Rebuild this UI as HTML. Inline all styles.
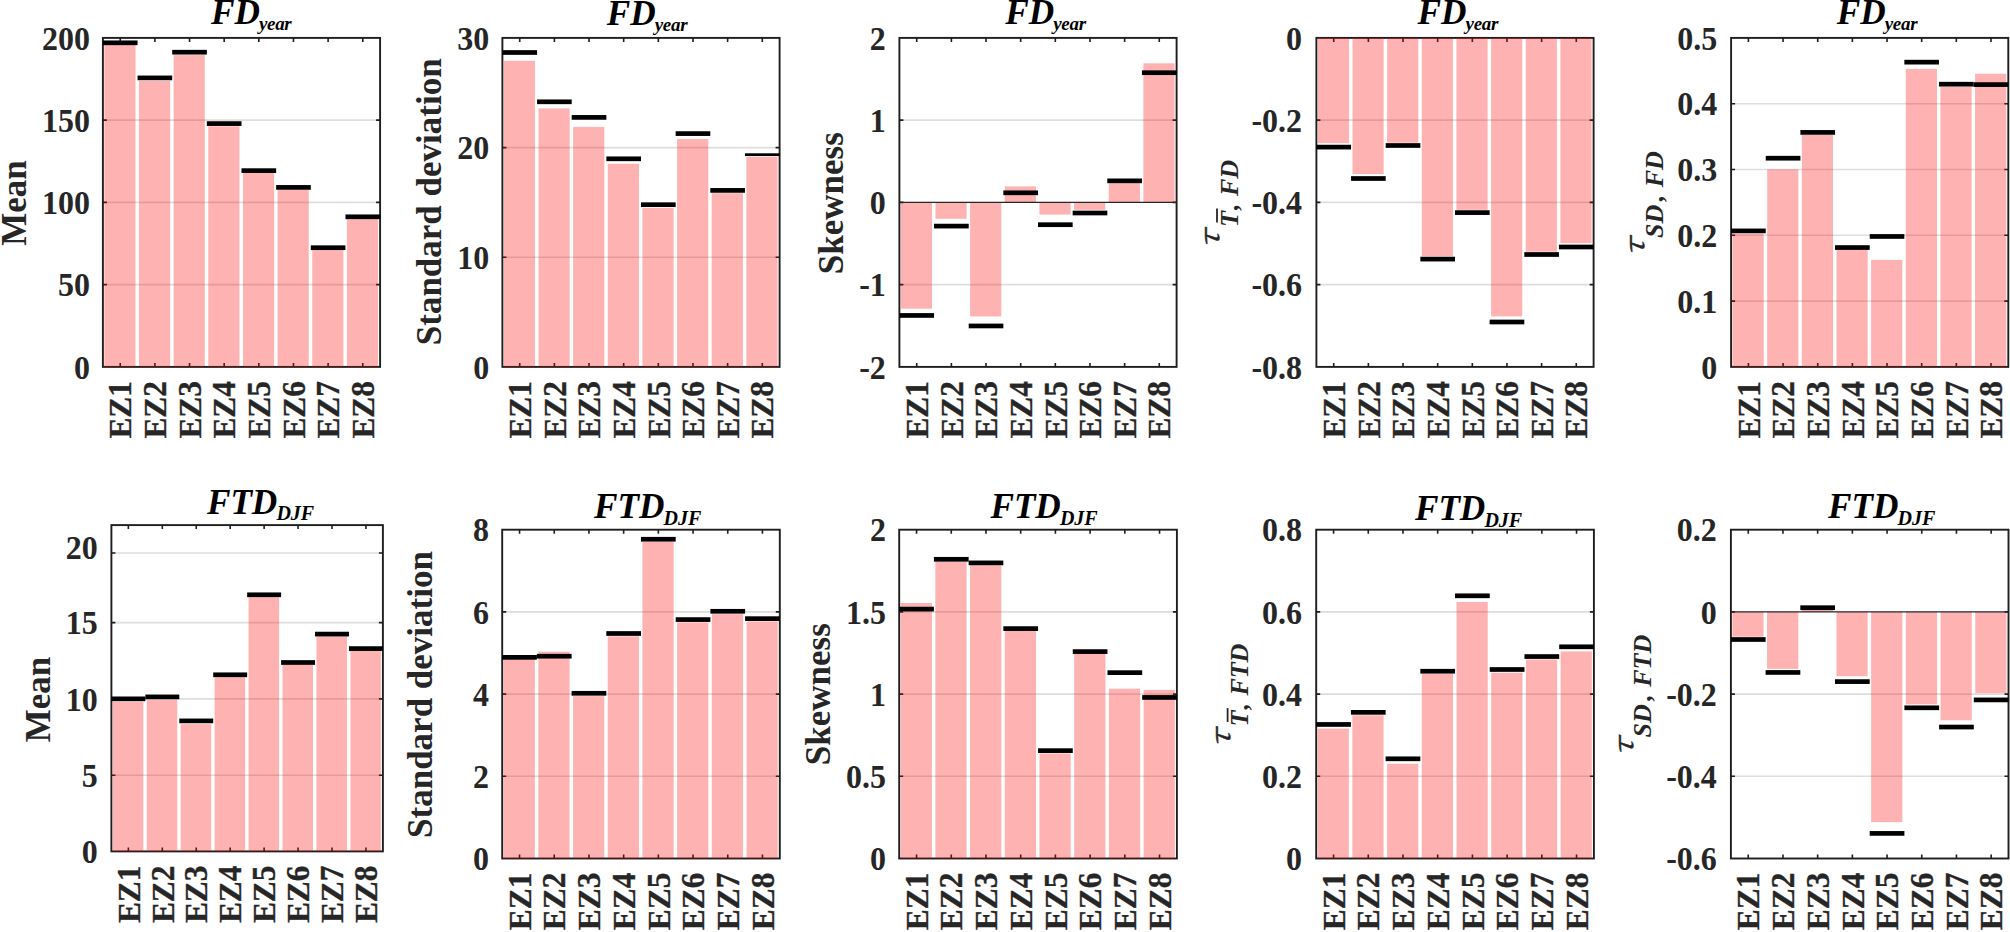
<!DOCTYPE html>
<html><head><meta charset="utf-8"><title>Figure</title>
<style>html,body{margin:0;padding:0;background:#fff;}svg{display:block;}text{font-family:'Liberation Serif', serif;}.tk{font-size:32px;font-weight:bold;fill:#262626;}.xk{font-size:31.4px;font-weight:bold;fill:#262626;stroke:#262626;stroke-width:0.3px;}.yl{font-size:35px;font-weight:bold;fill:#262626;}.tt{font-size:35.2px;font-weight:bold;font-style:italic;fill:#000;}.ts{font-size:20px;font-weight:bold;font-style:italic;fill:#000;}.ty{font-size:19px;letter-spacing:-0.3px;}.tau{font-family:'Noto Serif CJK SC','Liberation Serif',serif;font-size:27px;font-style:italic;fill:#262626;}.sub{font-size:26px;font-weight:bold;font-style:italic;fill:#262626;word-spacing:1.0px;}</style></head><body>
<svg width="2010" height="932" viewBox="0 0 2010 932">
<rect x="0" y="0" width="2010" height="932" fill="#fff"/>
<g>
<line x1="102.90" y1="284.65" x2="380.10" y2="284.65" stroke="#dddddd" stroke-width="1.6"/>
<line x1="102.90" y1="202.40" x2="380.10" y2="202.40" stroke="#dddddd" stroke-width="1.6"/>
<line x1="102.90" y1="120.15" x2="380.10" y2="120.15" stroke="#dddddd" stroke-width="1.6"/>
<rect x="102.90" y="37.90" width="277.20" height="329.00" fill="none" stroke="#1e1e1e" stroke-width="1.90"/>
<path d="M120.23 37.90v4.00M120.23 366.90v-4.00M154.88 37.90v4.00M154.88 366.90v-4.00M189.53 37.90v4.00M189.53 366.90v-4.00M224.18 37.90v4.00M224.18 366.90v-4.00M258.83 37.90v4.00M258.83 366.90v-4.00M293.48 37.90v4.00M293.48 366.90v-4.00M328.12 37.90v4.00M328.12 366.90v-4.00M362.78 37.90v4.00M362.78 366.90v-4.00M102.90 284.65h4.00M380.10 284.65h-4.00M102.90 202.40h4.00M380.10 202.40h-4.00M102.90 120.15h4.00M380.10 120.15h-4.00" stroke="#1e1e1e" stroke-width="1.6" fill="none"/>
<rect x="104.33" y="45.00" width="31.19" height="321.90" fill="#ff0000" fill-opacity="0.3"/>
<rect x="138.98" y="81.00" width="31.19" height="285.90" fill="#ff0000" fill-opacity="0.3"/>
<rect x="173.63" y="55.10" width="31.19" height="311.80" fill="#ff0000" fill-opacity="0.3"/>
<rect x="208.28" y="126.30" width="31.19" height="240.60" fill="#ff0000" fill-opacity="0.3"/>
<rect x="242.93" y="173.00" width="31.19" height="193.90" fill="#ff0000" fill-opacity="0.3"/>
<rect x="277.58" y="189.80" width="31.19" height="177.10" fill="#ff0000" fill-opacity="0.3"/>
<rect x="312.23" y="250.10" width="31.19" height="116.80" fill="#ff0000" fill-opacity="0.3"/>
<rect x="346.88" y="219.10" width="31.19" height="147.80" fill="#ff0000" fill-opacity="0.3"/>
<rect x="102.90" y="40.45" width="34.65" height="4.70" fill="#000"/>
<rect x="137.55" y="75.55" width="34.65" height="4.70" fill="#000"/>
<rect x="172.20" y="49.85" width="34.65" height="4.70" fill="#000"/>
<rect x="206.85" y="121.25" width="34.65" height="4.70" fill="#000"/>
<rect x="241.50" y="168.30" width="34.65" height="4.70" fill="#000"/>
<rect x="276.15" y="185.05" width="34.65" height="4.70" fill="#000"/>
<rect x="310.80" y="245.35" width="34.65" height="4.70" fill="#000"/>
<rect x="345.45" y="214.45" width="34.65" height="4.70" fill="#000"/>
<text class="tk" transform="translate(89.90 378.65) scale(1 1.075)" text-anchor="end">0</text>
<text class="tk" transform="translate(89.90 296.40) scale(1 1.075)" text-anchor="end">50</text>
<text class="tk" transform="translate(89.90 214.15) scale(1 1.075)" text-anchor="end">100</text>
<text class="tk" transform="translate(89.90 131.90) scale(1 1.075)" text-anchor="end">150</text>
<text class="tk" transform="translate(89.90 49.65) scale(1 1.075)" text-anchor="end">200</text>
<text class="xk" transform="translate(131.43 381.00) rotate(-90)" text-anchor="end" x="-15.7">EZ</text><text class="xk" transform="translate(131.43 381.00) rotate(-90) scale(1 1.06)" text-anchor="end">1</text>
<text class="xk" transform="translate(166.07 381.00) rotate(-90)" text-anchor="end" x="-15.7">EZ</text><text class="xk" transform="translate(166.07 381.00) rotate(-90) scale(1 1.06)" text-anchor="end">2</text>
<text class="xk" transform="translate(200.73 381.00) rotate(-90)" text-anchor="end" x="-15.7">EZ</text><text class="xk" transform="translate(200.73 381.00) rotate(-90) scale(1 1.06)" text-anchor="end">3</text>
<text class="xk" transform="translate(235.38 381.00) rotate(-90)" text-anchor="end" x="-15.7">EZ</text><text class="xk" transform="translate(235.38 381.00) rotate(-90) scale(1 1.06)" text-anchor="end">4</text>
<text class="xk" transform="translate(270.03 381.00) rotate(-90)" text-anchor="end" x="-15.7">EZ</text><text class="xk" transform="translate(270.03 381.00) rotate(-90) scale(1 1.06)" text-anchor="end">5</text>
<text class="xk" transform="translate(304.68 381.00) rotate(-90)" text-anchor="end" x="-15.7">EZ</text><text class="xk" transform="translate(304.68 381.00) rotate(-90) scale(1 1.06)" text-anchor="end">6</text>
<text class="xk" transform="translate(339.32 381.00) rotate(-90)" text-anchor="end" x="-15.7">EZ</text><text class="xk" transform="translate(339.32 381.00) rotate(-90) scale(1 1.06)" text-anchor="end">7</text>
<text class="xk" transform="translate(373.98 381.00) rotate(-90)" text-anchor="end" x="-15.7">EZ</text><text class="xk" transform="translate(373.98 381.00) rotate(-90) scale(1 1.06)" text-anchor="end">8</text>
<text class="tt" transform="translate(210.90 24.40) scale(1 1.04)">FD<tspan class="ts ty" dx="-0.9" dy="5.20">year</tspan></text>
<text class="yl" transform="translate(26.20 203.00) rotate(-90)" text-anchor="middle">Mean</text>
</g>
<g>
<line x1="502.40" y1="257.20" x2="779.60" y2="257.20" stroke="#dddddd" stroke-width="1.6"/>
<line x1="502.40" y1="147.60" x2="779.60" y2="147.60" stroke="#dddddd" stroke-width="1.6"/>
<rect x="502.40" y="37.90" width="277.20" height="329.00" fill="none" stroke="#1e1e1e" stroke-width="1.90"/>
<path d="M519.73 37.90v4.00M519.73 366.90v-4.00M554.38 37.90v4.00M554.38 366.90v-4.00M589.02 37.90v4.00M589.02 366.90v-4.00M623.67 37.90v4.00M623.67 366.90v-4.00M658.33 37.90v4.00M658.33 366.90v-4.00M692.98 37.90v4.00M692.98 366.90v-4.00M727.62 37.90v4.00M727.62 366.90v-4.00M762.28 37.90v4.00M762.28 366.90v-4.00M502.40 257.20h4.00M779.60 257.20h-4.00M502.40 147.60h4.00M779.60 147.60h-4.00" stroke="#1e1e1e" stroke-width="1.6" fill="none"/>
<rect x="503.83" y="60.80" width="31.19" height="306.10" fill="#ff0000" fill-opacity="0.3"/>
<rect x="538.48" y="108.40" width="31.19" height="258.50" fill="#ff0000" fill-opacity="0.3"/>
<rect x="573.13" y="126.90" width="31.19" height="240.00" fill="#ff0000" fill-opacity="0.3"/>
<rect x="607.78" y="163.80" width="31.19" height="203.10" fill="#ff0000" fill-opacity="0.3"/>
<rect x="642.43" y="208.00" width="31.19" height="158.90" fill="#ff0000" fill-opacity="0.3"/>
<rect x="677.08" y="139.00" width="31.19" height="227.90" fill="#ff0000" fill-opacity="0.3"/>
<rect x="711.73" y="193.20" width="31.19" height="173.70" fill="#ff0000" fill-opacity="0.3"/>
<rect x="746.38" y="157.00" width="31.19" height="209.90" fill="#ff0000" fill-opacity="0.3"/>
<rect x="502.40" y="50.15" width="34.65" height="4.70" fill="#000"/>
<rect x="537.05" y="99.45" width="34.65" height="4.70" fill="#000"/>
<rect x="571.70" y="115.05" width="34.65" height="4.70" fill="#000"/>
<rect x="606.35" y="156.45" width="34.65" height="4.70" fill="#000"/>
<rect x="641.00" y="202.35" width="34.65" height="4.70" fill="#000"/>
<rect x="675.65" y="131.25" width="34.65" height="4.70" fill="#000"/>
<rect x="710.30" y="188.05" width="34.65" height="4.70" fill="#000"/>
<rect x="744.95" y="153.30" width="34.65" height="2.80" fill="#000"/>
<text class="tk" transform="translate(489.20 378.65) scale(1 1.075)" text-anchor="end">0</text>
<text class="tk" transform="translate(489.20 268.95) scale(1 1.075)" text-anchor="end">10</text>
<text class="tk" transform="translate(489.20 159.35) scale(1 1.075)" text-anchor="end">20</text>
<text class="tk" transform="translate(489.20 49.65) scale(1 1.075)" text-anchor="end">30</text>
<text class="xk" transform="translate(530.93 381.00) rotate(-90)" text-anchor="end" x="-15.7">EZ</text><text class="xk" transform="translate(530.93 381.00) rotate(-90) scale(1 1.06)" text-anchor="end">1</text>
<text class="xk" transform="translate(565.58 381.00) rotate(-90)" text-anchor="end" x="-15.7">EZ</text><text class="xk" transform="translate(565.58 381.00) rotate(-90) scale(1 1.06)" text-anchor="end">2</text>
<text class="xk" transform="translate(600.23 381.00) rotate(-90)" text-anchor="end" x="-15.7">EZ</text><text class="xk" transform="translate(600.23 381.00) rotate(-90) scale(1 1.06)" text-anchor="end">3</text>
<text class="xk" transform="translate(634.88 381.00) rotate(-90)" text-anchor="end" x="-15.7">EZ</text><text class="xk" transform="translate(634.88 381.00) rotate(-90) scale(1 1.06)" text-anchor="end">4</text>
<text class="xk" transform="translate(669.53 381.00) rotate(-90)" text-anchor="end" x="-15.7">EZ</text><text class="xk" transform="translate(669.53 381.00) rotate(-90) scale(1 1.06)" text-anchor="end">5</text>
<text class="xk" transform="translate(704.18 381.00) rotate(-90)" text-anchor="end" x="-15.7">EZ</text><text class="xk" transform="translate(704.18 381.00) rotate(-90) scale(1 1.06)" text-anchor="end">6</text>
<text class="xk" transform="translate(738.83 381.00) rotate(-90)" text-anchor="end" x="-15.7">EZ</text><text class="xk" transform="translate(738.83 381.00) rotate(-90) scale(1 1.06)" text-anchor="end">7</text>
<text class="xk" transform="translate(773.48 381.00) rotate(-90)" text-anchor="end" x="-15.7">EZ</text><text class="xk" transform="translate(773.48 381.00) rotate(-90) scale(1 1.06)" text-anchor="end">8</text>
<text class="tt" transform="translate(606.70 25.30) scale(1 1.04)">FD<tspan class="ts ty" dx="-0.9" dy="5.20">year</tspan></text>
<text class="yl" transform="translate(441.10 201.80) rotate(-90)" text-anchor="middle">Standard deviation</text>
</g>
<g>
<line x1="899.40" y1="284.65" x2="1176.60" y2="284.65" stroke="#dddddd" stroke-width="1.6"/>
<line x1="899.40" y1="120.15" x2="1176.60" y2="120.15" stroke="#dddddd" stroke-width="1.6"/>
<rect x="899.40" y="37.90" width="277.20" height="329.00" fill="none" stroke="#1e1e1e" stroke-width="1.90"/>
<path d="M916.73 37.90v4.00M916.73 366.90v-4.00M951.38 37.90v4.00M951.38 366.90v-4.00M986.02 37.90v4.00M986.02 366.90v-4.00M1020.67 37.90v4.00M1020.67 366.90v-4.00M1055.32 37.90v4.00M1055.32 366.90v-4.00M1089.97 37.90v4.00M1089.97 366.90v-4.00M1124.62 37.90v4.00M1124.62 366.90v-4.00M1159.27 37.90v4.00M1159.27 366.90v-4.00M899.40 284.65h4.00M1176.60 284.65h-4.00M899.40 202.40h4.00M1176.60 202.40h-4.00M899.40 120.15h4.00M1176.60 120.15h-4.00" stroke="#1e1e1e" stroke-width="1.6" fill="none"/>
<rect x="900.83" y="202.40" width="31.18" height="106.30" fill="#ff0000" fill-opacity="0.3"/>
<rect x="935.48" y="202.40" width="31.18" height="16.40" fill="#ff0000" fill-opacity="0.3"/>
<rect x="970.13" y="202.40" width="31.18" height="114.00" fill="#ff0000" fill-opacity="0.3"/>
<rect x="1004.78" y="186.40" width="31.18" height="16.00" fill="#ff0000" fill-opacity="0.3"/>
<rect x="1039.43" y="202.40" width="31.18" height="12.20" fill="#ff0000" fill-opacity="0.3"/>
<rect x="1074.08" y="202.40" width="31.18" height="7.45" fill="#ff0000" fill-opacity="0.3"/>
<rect x="1108.73" y="183.20" width="31.18" height="19.20" fill="#ff0000" fill-opacity="0.3"/>
<rect x="1143.38" y="63.30" width="31.18" height="139.10" fill="#ff0000" fill-opacity="0.3"/>
<line x1="899.40" y1="202.40" x2="1176.60" y2="202.40" stroke="#262626" stroke-width="1.3"/>
<rect x="899.40" y="313.10" width="34.65" height="4.70" fill="#000"/>
<rect x="934.05" y="223.75" width="34.65" height="4.70" fill="#000"/>
<rect x="968.70" y="323.60" width="34.65" height="4.70" fill="#000"/>
<rect x="1003.35" y="190.45" width="34.65" height="4.70" fill="#000"/>
<rect x="1038.00" y="222.35" width="34.65" height="4.70" fill="#000"/>
<rect x="1072.65" y="210.65" width="34.65" height="4.70" fill="#000"/>
<rect x="1107.30" y="178.50" width="34.65" height="4.70" fill="#000"/>
<rect x="1141.95" y="70.35" width="34.65" height="4.70" fill="#000"/>
<text class="tk" transform="translate(885.80 378.65) scale(1 1.075)" text-anchor="end">-2</text>
<text class="tk" transform="translate(885.80 296.40) scale(1 1.075)" text-anchor="end">-1</text>
<text class="tk" transform="translate(885.80 214.15) scale(1 1.075)" text-anchor="end">0</text>
<text class="tk" transform="translate(885.80 131.90) scale(1 1.075)" text-anchor="end">1</text>
<text class="tk" transform="translate(885.80 49.65) scale(1 1.075)" text-anchor="end">2</text>
<text class="xk" transform="translate(927.93 381.00) rotate(-90)" text-anchor="end" x="-15.7">EZ</text><text class="xk" transform="translate(927.93 381.00) rotate(-90) scale(1 1.06)" text-anchor="end">1</text>
<text class="xk" transform="translate(962.58 381.00) rotate(-90)" text-anchor="end" x="-15.7">EZ</text><text class="xk" transform="translate(962.58 381.00) rotate(-90) scale(1 1.06)" text-anchor="end">2</text>
<text class="xk" transform="translate(997.23 381.00) rotate(-90)" text-anchor="end" x="-15.7">EZ</text><text class="xk" transform="translate(997.23 381.00) rotate(-90) scale(1 1.06)" text-anchor="end">3</text>
<text class="xk" transform="translate(1031.88 381.00) rotate(-90)" text-anchor="end" x="-15.7">EZ</text><text class="xk" transform="translate(1031.88 381.00) rotate(-90) scale(1 1.06)" text-anchor="end">4</text>
<text class="xk" transform="translate(1066.52 381.00) rotate(-90)" text-anchor="end" x="-15.7">EZ</text><text class="xk" transform="translate(1066.52 381.00) rotate(-90) scale(1 1.06)" text-anchor="end">5</text>
<text class="xk" transform="translate(1101.17 381.00) rotate(-90)" text-anchor="end" x="-15.7">EZ</text><text class="xk" transform="translate(1101.17 381.00) rotate(-90) scale(1 1.06)" text-anchor="end">6</text>
<text class="xk" transform="translate(1135.83 381.00) rotate(-90)" text-anchor="end" x="-15.7">EZ</text><text class="xk" transform="translate(1135.83 381.00) rotate(-90) scale(1 1.06)" text-anchor="end">7</text>
<text class="xk" transform="translate(1170.47 381.00) rotate(-90)" text-anchor="end" x="-15.7">EZ</text><text class="xk" transform="translate(1170.47 381.00) rotate(-90) scale(1 1.06)" text-anchor="end">8</text>
<text class="tt" transform="translate(1005.20 24.40) scale(1 1.04)">FD<tspan class="ts ty" dx="-0.9" dy="5.20">year</tspan></text>
<text class="yl" transform="translate(843.20 203.20) rotate(-90)" text-anchor="middle">Skewness</text>
</g>
<g>
<line x1="1316.40" y1="284.65" x2="1593.60" y2="284.65" stroke="#dddddd" stroke-width="1.6"/>
<line x1="1316.40" y1="202.40" x2="1593.60" y2="202.40" stroke="#dddddd" stroke-width="1.6"/>
<line x1="1316.40" y1="120.15" x2="1593.60" y2="120.15" stroke="#dddddd" stroke-width="1.6"/>
<rect x="1316.40" y="37.90" width="277.20" height="329.00" fill="none" stroke="#1e1e1e" stroke-width="1.90"/>
<path d="M1333.73 37.90v4.00M1333.73 366.90v-4.00M1368.38 37.90v4.00M1368.38 366.90v-4.00M1403.03 37.90v4.00M1403.03 366.90v-4.00M1437.67 37.90v4.00M1437.67 366.90v-4.00M1472.33 37.90v4.00M1472.33 366.90v-4.00M1506.97 37.90v4.00M1506.97 366.90v-4.00M1541.62 37.90v4.00M1541.62 366.90v-4.00M1576.27 37.90v4.00M1576.27 366.90v-4.00M1316.40 284.65h4.00M1593.60 284.65h-4.00M1316.40 202.40h4.00M1593.60 202.40h-4.00M1316.40 120.15h4.00M1593.60 120.15h-4.00" stroke="#1e1e1e" stroke-width="1.6" fill="none"/>
<rect x="1317.83" y="37.90" width="31.18" height="105.20" fill="#ff0000" fill-opacity="0.3"/>
<rect x="1352.48" y="37.90" width="31.18" height="136.20" fill="#ff0000" fill-opacity="0.3"/>
<rect x="1387.13" y="37.90" width="31.18" height="104.80" fill="#ff0000" fill-opacity="0.3"/>
<rect x="1421.78" y="37.90" width="31.18" height="218.40" fill="#ff0000" fill-opacity="0.3"/>
<rect x="1456.43" y="37.90" width="31.18" height="171.95" fill="#ff0000" fill-opacity="0.3"/>
<rect x="1491.08" y="37.90" width="31.18" height="278.50" fill="#ff0000" fill-opacity="0.3"/>
<rect x="1525.73" y="37.90" width="31.18" height="213.80" fill="#ff0000" fill-opacity="0.3"/>
<rect x="1560.38" y="37.90" width="31.18" height="205.30" fill="#ff0000" fill-opacity="0.3"/>
<rect x="1316.40" y="144.75" width="34.65" height="4.70" fill="#000"/>
<rect x="1351.05" y="176.15" width="34.65" height="4.70" fill="#000"/>
<rect x="1385.70" y="143.15" width="34.65" height="4.70" fill="#000"/>
<rect x="1420.35" y="256.75" width="34.65" height="4.70" fill="#000"/>
<rect x="1455.00" y="210.25" width="34.65" height="4.70" fill="#000"/>
<rect x="1489.65" y="319.65" width="34.65" height="4.70" fill="#000"/>
<rect x="1524.30" y="252.15" width="34.65" height="4.70" fill="#000"/>
<rect x="1558.95" y="244.65" width="34.65" height="4.70" fill="#000"/>
<text class="tk" transform="translate(1302.10 378.65) scale(1 1.075)" text-anchor="end">-0.8</text>
<text class="tk" transform="translate(1302.10 296.40) scale(1 1.075)" text-anchor="end">-0.6</text>
<text class="tk" transform="translate(1302.10 214.15) scale(1 1.075)" text-anchor="end">-0.4</text>
<text class="tk" transform="translate(1302.10 131.90) scale(1 1.075)" text-anchor="end">-0.2</text>
<text class="tk" transform="translate(1302.10 49.65) scale(1 1.075)" text-anchor="end">0</text>
<text class="xk" transform="translate(1344.93 381.00) rotate(-90)" text-anchor="end" x="-15.7">EZ</text><text class="xk" transform="translate(1344.93 381.00) rotate(-90) scale(1 1.06)" text-anchor="end">1</text>
<text class="xk" transform="translate(1379.58 381.00) rotate(-90)" text-anchor="end" x="-15.7">EZ</text><text class="xk" transform="translate(1379.58 381.00) rotate(-90) scale(1 1.06)" text-anchor="end">2</text>
<text class="xk" transform="translate(1414.23 381.00) rotate(-90)" text-anchor="end" x="-15.7">EZ</text><text class="xk" transform="translate(1414.23 381.00) rotate(-90) scale(1 1.06)" text-anchor="end">3</text>
<text class="xk" transform="translate(1448.88 381.00) rotate(-90)" text-anchor="end" x="-15.7">EZ</text><text class="xk" transform="translate(1448.88 381.00) rotate(-90) scale(1 1.06)" text-anchor="end">4</text>
<text class="xk" transform="translate(1483.53 381.00) rotate(-90)" text-anchor="end" x="-15.7">EZ</text><text class="xk" transform="translate(1483.53 381.00) rotate(-90) scale(1 1.06)" text-anchor="end">5</text>
<text class="xk" transform="translate(1518.17 381.00) rotate(-90)" text-anchor="end" x="-15.7">EZ</text><text class="xk" transform="translate(1518.17 381.00) rotate(-90) scale(1 1.06)" text-anchor="end">6</text>
<text class="xk" transform="translate(1552.83 381.00) rotate(-90)" text-anchor="end" x="-15.7">EZ</text><text class="xk" transform="translate(1552.83 381.00) rotate(-90) scale(1 1.06)" text-anchor="end">7</text>
<text class="xk" transform="translate(1587.47 381.00) rotate(-90)" text-anchor="end" x="-15.7">EZ</text><text class="xk" transform="translate(1587.47 381.00) rotate(-90) scale(1 1.06)" text-anchor="end">8</text>
<text class="tt" transform="translate(1417.50 24.40) scale(1 1.04)">FD<tspan class="ts ty" dx="-0.9" dy="5.20">year</tspan></text>
<text class="tau" transform="translate(1219.00 248.40) rotate(-90) scale(1.32 1)" stroke="#262626" stroke-width="0.45">τ</text><text class="sub" transform="translate(1237.50 227.10) rotate(-90)">T<tspan dx="3.5">,</tspan> FD</text><line x1="1217.00" y1="222.50" x2="1217.00" y2="208.60" stroke="#262626" stroke-width="1.8"/>
</g>
<g>
<line x1="1731.10" y1="301.10" x2="2008.30" y2="301.10" stroke="#dddddd" stroke-width="1.6"/>
<line x1="1731.10" y1="235.30" x2="2008.30" y2="235.30" stroke="#dddddd" stroke-width="1.6"/>
<line x1="1731.10" y1="169.50" x2="2008.30" y2="169.50" stroke="#dddddd" stroke-width="1.6"/>
<line x1="1731.10" y1="103.70" x2="2008.30" y2="103.70" stroke="#dddddd" stroke-width="1.6"/>
<rect x="1731.10" y="37.90" width="277.20" height="329.00" fill="none" stroke="#1e1e1e" stroke-width="1.90"/>
<path d="M1748.42 37.90v4.00M1748.42 366.90v-4.00M1783.07 37.90v4.00M1783.07 366.90v-4.00M1817.72 37.90v4.00M1817.72 366.90v-4.00M1852.38 37.90v4.00M1852.38 366.90v-4.00M1887.02 37.90v4.00M1887.02 366.90v-4.00M1921.67 37.90v4.00M1921.67 366.90v-4.00M1956.32 37.90v4.00M1956.32 366.90v-4.00M1990.97 37.90v4.00M1990.97 366.90v-4.00M1731.10 301.10h4.00M2008.30 301.10h-4.00M1731.10 235.30h4.00M2008.30 235.30h-4.00M1731.10 169.50h4.00M2008.30 169.50h-4.00M1731.10 103.70h4.00M2008.30 103.70h-4.00" stroke="#1e1e1e" stroke-width="1.6" fill="none"/>
<rect x="1732.53" y="233.70" width="31.19" height="133.20" fill="#ff0000" fill-opacity="0.3"/>
<rect x="1767.18" y="169.30" width="31.19" height="197.60" fill="#ff0000" fill-opacity="0.3"/>
<rect x="1801.83" y="134.80" width="31.19" height="232.10" fill="#ff0000" fill-opacity="0.3"/>
<rect x="1836.48" y="249.90" width="31.19" height="117.00" fill="#ff0000" fill-opacity="0.3"/>
<rect x="1871.13" y="259.90" width="31.19" height="107.00" fill="#ff0000" fill-opacity="0.3"/>
<rect x="1905.78" y="68.90" width="31.19" height="298.00" fill="#ff0000" fill-opacity="0.3"/>
<rect x="1940.43" y="87.00" width="31.19" height="279.90" fill="#ff0000" fill-opacity="0.3"/>
<rect x="1975.08" y="73.70" width="31.19" height="293.20" fill="#ff0000" fill-opacity="0.3"/>
<rect x="1731.10" y="228.55" width="34.65" height="4.70" fill="#000"/>
<rect x="1765.75" y="155.85" width="34.65" height="4.70" fill="#000"/>
<rect x="1800.40" y="130.05" width="34.65" height="4.70" fill="#000"/>
<rect x="1835.05" y="245.20" width="34.65" height="4.70" fill="#000"/>
<rect x="1869.70" y="234.10" width="34.65" height="4.70" fill="#000"/>
<rect x="1904.35" y="59.80" width="34.65" height="4.70" fill="#000"/>
<rect x="1939.00" y="81.85" width="34.65" height="4.70" fill="#000"/>
<rect x="1973.65" y="82.25" width="34.65" height="4.70" fill="#000"/>
<text class="tk" transform="translate(1717.30 378.65) scale(1 1.075)" text-anchor="end">0</text>
<text class="tk" transform="translate(1717.30 312.85) scale(1 1.075)" text-anchor="end">0.1</text>
<text class="tk" transform="translate(1717.30 247.05) scale(1 1.075)" text-anchor="end">0.2</text>
<text class="tk" transform="translate(1717.30 181.25) scale(1 1.075)" text-anchor="end">0.3</text>
<text class="tk" transform="translate(1717.30 115.45) scale(1 1.075)" text-anchor="end">0.4</text>
<text class="tk" transform="translate(1717.30 49.65) scale(1 1.075)" text-anchor="end">0.5</text>
<text class="xk" transform="translate(1759.62 381.00) rotate(-90)" text-anchor="end" x="-15.7">EZ</text><text class="xk" transform="translate(1759.62 381.00) rotate(-90) scale(1 1.06)" text-anchor="end">1</text>
<text class="xk" transform="translate(1794.27 381.00) rotate(-90)" text-anchor="end" x="-15.7">EZ</text><text class="xk" transform="translate(1794.27 381.00) rotate(-90) scale(1 1.06)" text-anchor="end">2</text>
<text class="xk" transform="translate(1828.92 381.00) rotate(-90)" text-anchor="end" x="-15.7">EZ</text><text class="xk" transform="translate(1828.92 381.00) rotate(-90) scale(1 1.06)" text-anchor="end">3</text>
<text class="xk" transform="translate(1863.58 381.00) rotate(-90)" text-anchor="end" x="-15.7">EZ</text><text class="xk" transform="translate(1863.58 381.00) rotate(-90) scale(1 1.06)" text-anchor="end">4</text>
<text class="xk" transform="translate(1898.22 381.00) rotate(-90)" text-anchor="end" x="-15.7">EZ</text><text class="xk" transform="translate(1898.22 381.00) rotate(-90) scale(1 1.06)" text-anchor="end">5</text>
<text class="xk" transform="translate(1932.88 381.00) rotate(-90)" text-anchor="end" x="-15.7">EZ</text><text class="xk" transform="translate(1932.88 381.00) rotate(-90) scale(1 1.06)" text-anchor="end">6</text>
<text class="xk" transform="translate(1967.52 381.00) rotate(-90)" text-anchor="end" x="-15.7">EZ</text><text class="xk" transform="translate(1967.52 381.00) rotate(-90) scale(1 1.06)" text-anchor="end">7</text>
<text class="xk" transform="translate(2002.17 381.00) rotate(-90)" text-anchor="end" x="-15.7">EZ</text><text class="xk" transform="translate(2002.17 381.00) rotate(-90) scale(1 1.06)" text-anchor="end">8</text>
<text class="tt" transform="translate(1836.70 24.40) scale(1 1.04)">FD<tspan class="ts ty" dx="-0.9" dy="5.20">year</tspan></text>
<text class="tau" transform="translate(1644.30 256.40) rotate(-90) scale(1.32 1)" stroke="#262626" stroke-width="0.45">τ</text><text class="sub" transform="translate(1662.90 238.00) rotate(-90)">SD<tspan dx="3.5">,</tspan> FD</text>
</g>
<g>
<line x1="111.40" y1="775.30" x2="382.90" y2="775.30" stroke="#dddddd" stroke-width="1.6"/>
<line x1="111.40" y1="698.90" x2="382.90" y2="698.90" stroke="#dddddd" stroke-width="1.6"/>
<line x1="111.40" y1="622.60" x2="382.90" y2="622.60" stroke="#dddddd" stroke-width="1.6"/>
<line x1="111.40" y1="553.00" x2="382.90" y2="553.00" stroke="#dddddd" stroke-width="1.6"/>
<rect x="111.40" y="525.10" width="271.50" height="326.30" fill="none" stroke="#1e1e1e" stroke-width="1.90"/>
<path d="M128.37 525.10v4.00M128.37 851.40v-4.00M162.31 525.10v4.00M162.31 851.40v-4.00M196.24 525.10v4.00M196.24 851.40v-4.00M230.18 525.10v4.00M230.18 851.40v-4.00M264.12 525.10v4.00M264.12 851.40v-4.00M298.06 525.10v4.00M298.06 851.40v-4.00M331.99 525.10v4.00M331.99 851.40v-4.00M365.93 525.10v4.00M365.93 851.40v-4.00M111.40 775.30h4.00M382.90 775.30h-4.00M111.40 698.90h4.00M382.90 698.90h-4.00M111.40 622.60h4.00M382.90 622.60h-4.00M111.40 553.00h4.00M382.90 553.00h-4.00" stroke="#1e1e1e" stroke-width="1.6" fill="none"/>
<rect x="112.80" y="701.80" width="30.54" height="149.60" fill="#ff0000" fill-opacity="0.3"/>
<rect x="146.73" y="699.85" width="30.54" height="151.55" fill="#ff0000" fill-opacity="0.3"/>
<rect x="180.67" y="724.10" width="30.54" height="127.30" fill="#ff0000" fill-opacity="0.3"/>
<rect x="214.61" y="677.20" width="30.54" height="174.20" fill="#ff0000" fill-opacity="0.3"/>
<rect x="248.55" y="597.20" width="30.54" height="254.20" fill="#ff0000" fill-opacity="0.3"/>
<rect x="282.48" y="664.90" width="30.54" height="186.50" fill="#ff0000" fill-opacity="0.3"/>
<rect x="316.42" y="636.50" width="30.54" height="214.90" fill="#ff0000" fill-opacity="0.3"/>
<rect x="350.36" y="651.00" width="30.54" height="200.40" fill="#ff0000" fill-opacity="0.3"/>
<rect x="111.40" y="696.50" width="33.94" height="4.70" fill="#000"/>
<rect x="145.34" y="694.55" width="33.94" height="4.70" fill="#000"/>
<rect x="179.28" y="718.55" width="33.94" height="4.70" fill="#000"/>
<rect x="213.21" y="672.45" width="33.94" height="4.70" fill="#000"/>
<rect x="247.15" y="592.45" width="33.94" height="4.70" fill="#000"/>
<rect x="281.09" y="660.15" width="33.94" height="4.70" fill="#000"/>
<rect x="315.02" y="631.75" width="33.94" height="4.70" fill="#000"/>
<rect x="348.96" y="646.25" width="33.94" height="4.70" fill="#000"/>
<text class="tk" transform="translate(97.80 863.15) scale(1 1.075)" text-anchor="end">0</text>
<text class="tk" transform="translate(97.80 787.05) scale(1 1.075)" text-anchor="end">5</text>
<text class="tk" transform="translate(97.80 710.65) scale(1 1.075)" text-anchor="end">10</text>
<text class="tk" transform="translate(97.80 634.35) scale(1 1.075)" text-anchor="end">15</text>
<text class="tk" transform="translate(97.80 558.95) scale(1 1.075)" text-anchor="end">20</text>
<text class="xk" transform="translate(139.57 865.50) rotate(-90)" text-anchor="end" x="-15.7">EZ</text><text class="xk" transform="translate(139.57 865.50) rotate(-90) scale(1 1.06)" text-anchor="end">1</text>
<text class="xk" transform="translate(173.51 865.50) rotate(-90)" text-anchor="end" x="-15.7">EZ</text><text class="xk" transform="translate(173.51 865.50) rotate(-90) scale(1 1.06)" text-anchor="end">2</text>
<text class="xk" transform="translate(207.44 865.50) rotate(-90)" text-anchor="end" x="-15.7">EZ</text><text class="xk" transform="translate(207.44 865.50) rotate(-90) scale(1 1.06)" text-anchor="end">3</text>
<text class="xk" transform="translate(241.38 865.50) rotate(-90)" text-anchor="end" x="-15.7">EZ</text><text class="xk" transform="translate(241.38 865.50) rotate(-90) scale(1 1.06)" text-anchor="end">4</text>
<text class="xk" transform="translate(275.32 865.50) rotate(-90)" text-anchor="end" x="-15.7">EZ</text><text class="xk" transform="translate(275.32 865.50) rotate(-90) scale(1 1.06)" text-anchor="end">5</text>
<text class="xk" transform="translate(309.26 865.50) rotate(-90)" text-anchor="end" x="-15.7">EZ</text><text class="xk" transform="translate(309.26 865.50) rotate(-90) scale(1 1.06)" text-anchor="end">6</text>
<text class="xk" transform="translate(343.19 865.50) rotate(-90)" text-anchor="end" x="-15.7">EZ</text><text class="xk" transform="translate(343.19 865.50) rotate(-90) scale(1 1.06)" text-anchor="end">7</text>
<text class="xk" transform="translate(377.13 865.50) rotate(-90)" text-anchor="end" x="-15.7">EZ</text><text class="xk" transform="translate(377.13 865.50) rotate(-90) scale(1 1.06)" text-anchor="end">8</text>
<text class="tt" transform="translate(206.90 513.60) scale(1 1.04)">FTD<tspan class="ts" dx="-0.9" dy="6.50">DJF</tspan></text>
<text class="yl" transform="translate(50.40 699.50) rotate(-90)" text-anchor="middle">Mean</text>
</g>
<g>
<line x1="502.20" y1="776.30" x2="779.80" y2="776.30" stroke="#dddddd" stroke-width="1.6"/>
<line x1="502.20" y1="694.10" x2="779.80" y2="694.10" stroke="#dddddd" stroke-width="1.6"/>
<line x1="502.20" y1="611.90" x2="779.80" y2="611.90" stroke="#dddddd" stroke-width="1.6"/>
<rect x="502.20" y="529.70" width="277.60" height="328.80" fill="none" stroke="#1e1e1e" stroke-width="1.90"/>
<path d="M519.55 529.70v4.00M519.55 858.50v-4.00M554.25 529.70v4.00M554.25 858.50v-4.00M588.95 529.70v4.00M588.95 858.50v-4.00M623.65 529.70v4.00M623.65 858.50v-4.00M658.35 529.70v4.00M658.35 858.50v-4.00M693.05 529.70v4.00M693.05 858.50v-4.00M727.75 529.70v4.00M727.75 858.50v-4.00M762.45 529.70v4.00M762.45 858.50v-4.00M502.20 776.30h4.00M779.80 776.30h-4.00M502.20 694.10h4.00M779.80 694.10h-4.00M502.20 611.90h4.00M779.80 611.90h-4.00" stroke="#1e1e1e" stroke-width="1.6" fill="none"/>
<rect x="503.63" y="655.00" width="31.23" height="203.50" fill="#ff0000" fill-opacity="0.3"/>
<rect x="538.34" y="651.60" width="31.23" height="206.90" fill="#ff0000" fill-opacity="0.3"/>
<rect x="573.03" y="696.10" width="31.23" height="162.40" fill="#ff0000" fill-opacity="0.3"/>
<rect x="607.74" y="636.30" width="31.23" height="222.20" fill="#ff0000" fill-opacity="0.3"/>
<rect x="642.43" y="542.00" width="31.23" height="316.50" fill="#ff0000" fill-opacity="0.3"/>
<rect x="677.13" y="622.40" width="31.23" height="236.10" fill="#ff0000" fill-opacity="0.3"/>
<rect x="711.84" y="614.10" width="31.23" height="244.40" fill="#ff0000" fill-opacity="0.3"/>
<rect x="746.53" y="621.40" width="31.23" height="237.10" fill="#ff0000" fill-opacity="0.3"/>
<rect x="502.20" y="655.00" width="34.70" height="4.70" fill="#000"/>
<rect x="536.90" y="653.85" width="34.70" height="4.70" fill="#000"/>
<rect x="571.60" y="690.95" width="34.70" height="4.70" fill="#000"/>
<rect x="606.30" y="631.15" width="34.70" height="4.70" fill="#000"/>
<rect x="641.00" y="536.90" width="34.70" height="4.70" fill="#000"/>
<rect x="675.70" y="617.25" width="34.70" height="4.70" fill="#000"/>
<rect x="710.40" y="608.95" width="34.70" height="4.70" fill="#000"/>
<rect x="745.10" y="616.30" width="34.70" height="4.70" fill="#000"/>
<text class="tk" transform="translate(488.90 870.25) scale(1 1.075)" text-anchor="end">0</text>
<text class="tk" transform="translate(488.90 788.05) scale(1 1.075)" text-anchor="end">2</text>
<text class="tk" transform="translate(488.90 705.85) scale(1 1.075)" text-anchor="end">4</text>
<text class="tk" transform="translate(488.90 623.65) scale(1 1.075)" text-anchor="end">6</text>
<text class="tk" transform="translate(488.90 541.45) scale(1 1.075)" text-anchor="end">8</text>
<text class="xk" transform="translate(530.75 872.60) rotate(-90)" text-anchor="end" x="-15.7">EZ</text><text class="xk" transform="translate(530.75 872.60) rotate(-90) scale(1 1.06)" text-anchor="end">1</text>
<text class="xk" transform="translate(565.45 872.60) rotate(-90)" text-anchor="end" x="-15.7">EZ</text><text class="xk" transform="translate(565.45 872.60) rotate(-90) scale(1 1.06)" text-anchor="end">2</text>
<text class="xk" transform="translate(600.15 872.60) rotate(-90)" text-anchor="end" x="-15.7">EZ</text><text class="xk" transform="translate(600.15 872.60) rotate(-90) scale(1 1.06)" text-anchor="end">3</text>
<text class="xk" transform="translate(634.85 872.60) rotate(-90)" text-anchor="end" x="-15.7">EZ</text><text class="xk" transform="translate(634.85 872.60) rotate(-90) scale(1 1.06)" text-anchor="end">4</text>
<text class="xk" transform="translate(669.55 872.60) rotate(-90)" text-anchor="end" x="-15.7">EZ</text><text class="xk" transform="translate(669.55 872.60) rotate(-90) scale(1 1.06)" text-anchor="end">5</text>
<text class="xk" transform="translate(704.25 872.60) rotate(-90)" text-anchor="end" x="-15.7">EZ</text><text class="xk" transform="translate(704.25 872.60) rotate(-90) scale(1 1.06)" text-anchor="end">6</text>
<text class="xk" transform="translate(738.95 872.60) rotate(-90)" text-anchor="end" x="-15.7">EZ</text><text class="xk" transform="translate(738.95 872.60) rotate(-90) scale(1 1.06)" text-anchor="end">7</text>
<text class="xk" transform="translate(773.65 872.60) rotate(-90)" text-anchor="end" x="-15.7">EZ</text><text class="xk" transform="translate(773.65 872.60) rotate(-90) scale(1 1.06)" text-anchor="end">8</text>
<text class="tt" transform="translate(594.10 518.10) scale(1 1.04)">FTD<tspan class="ts" dx="-0.9" dy="6.50">DJF</tspan></text>
<text class="yl" transform="translate(432.30 694.50) rotate(-90)" text-anchor="middle">Standard deviation</text>
</g>
<g>
<line x1="899.20" y1="776.30" x2="1176.90" y2="776.30" stroke="#dddddd" stroke-width="1.6"/>
<line x1="899.20" y1="694.10" x2="1176.90" y2="694.10" stroke="#dddddd" stroke-width="1.6"/>
<line x1="899.20" y1="611.90" x2="1176.90" y2="611.90" stroke="#dddddd" stroke-width="1.6"/>
<rect x="899.20" y="529.70" width="277.70" height="328.80" fill="none" stroke="#1e1e1e" stroke-width="1.90"/>
<path d="M916.56 529.70v4.00M916.56 858.50v-4.00M951.27 529.70v4.00M951.27 858.50v-4.00M985.98 529.70v4.00M985.98 858.50v-4.00M1020.69 529.70v4.00M1020.69 858.50v-4.00M1055.41 529.70v4.00M1055.41 858.50v-4.00M1090.12 529.70v4.00M1090.12 858.50v-4.00M1124.83 529.70v4.00M1124.83 858.50v-4.00M1159.54 529.70v4.00M1159.54 858.50v-4.00M899.20 776.30h4.00M1176.90 776.30h-4.00M899.20 694.10h4.00M1176.90 694.10h-4.00M899.20 611.90h4.00M1176.90 611.90h-4.00" stroke="#1e1e1e" stroke-width="1.6" fill="none"/>
<rect x="900.64" y="603.00" width="31.24" height="255.50" fill="#ff0000" fill-opacity="0.3"/>
<rect x="935.35" y="561.70" width="31.24" height="296.80" fill="#ff0000" fill-opacity="0.3"/>
<rect x="970.06" y="565.30" width="31.24" height="293.20" fill="#ff0000" fill-opacity="0.3"/>
<rect x="1004.77" y="631.00" width="31.24" height="227.50" fill="#ff0000" fill-opacity="0.3"/>
<rect x="1039.49" y="753.40" width="31.24" height="105.10" fill="#ff0000" fill-opacity="0.3"/>
<rect x="1074.20" y="654.00" width="31.24" height="204.50" fill="#ff0000" fill-opacity="0.3"/>
<rect x="1108.91" y="688.70" width="31.24" height="169.80" fill="#ff0000" fill-opacity="0.3"/>
<rect x="1143.62" y="689.90" width="31.24" height="168.60" fill="#ff0000" fill-opacity="0.3"/>
<rect x="899.20" y="606.75" width="34.71" height="4.70" fill="#000"/>
<rect x="933.91" y="556.95" width="34.71" height="4.70" fill="#000"/>
<rect x="968.62" y="560.55" width="34.71" height="4.70" fill="#000"/>
<rect x="1003.34" y="626.25" width="34.71" height="4.70" fill="#000"/>
<rect x="1038.05" y="748.30" width="34.71" height="4.70" fill="#000"/>
<rect x="1072.76" y="649.25" width="34.71" height="4.70" fill="#000"/>
<rect x="1107.48" y="670.30" width="34.71" height="4.70" fill="#000"/>
<rect x="1142.19" y="695.10" width="34.71" height="4.70" fill="#000"/>
<text class="tk" transform="translate(885.90 870.25) scale(1 1.075)" text-anchor="end">0</text>
<text class="tk" transform="translate(885.90 788.05) scale(1 1.075)" text-anchor="end">0.5</text>
<text class="tk" transform="translate(885.90 705.85) scale(1 1.075)" text-anchor="end">1</text>
<text class="tk" transform="translate(885.90 623.65) scale(1 1.075)" text-anchor="end">1.5</text>
<text class="tk" transform="translate(885.90 541.45) scale(1 1.075)" text-anchor="end">2</text>
<text class="xk" transform="translate(927.76 872.60) rotate(-90)" text-anchor="end" x="-15.7">EZ</text><text class="xk" transform="translate(927.76 872.60) rotate(-90) scale(1 1.06)" text-anchor="end">1</text>
<text class="xk" transform="translate(962.47 872.60) rotate(-90)" text-anchor="end" x="-15.7">EZ</text><text class="xk" transform="translate(962.47 872.60) rotate(-90) scale(1 1.06)" text-anchor="end">2</text>
<text class="xk" transform="translate(997.18 872.60) rotate(-90)" text-anchor="end" x="-15.7">EZ</text><text class="xk" transform="translate(997.18 872.60) rotate(-90) scale(1 1.06)" text-anchor="end">3</text>
<text class="xk" transform="translate(1031.89 872.60) rotate(-90)" text-anchor="end" x="-15.7">EZ</text><text class="xk" transform="translate(1031.89 872.60) rotate(-90) scale(1 1.06)" text-anchor="end">4</text>
<text class="xk" transform="translate(1066.61 872.60) rotate(-90)" text-anchor="end" x="-15.7">EZ</text><text class="xk" transform="translate(1066.61 872.60) rotate(-90) scale(1 1.06)" text-anchor="end">5</text>
<text class="xk" transform="translate(1101.32 872.60) rotate(-90)" text-anchor="end" x="-15.7">EZ</text><text class="xk" transform="translate(1101.32 872.60) rotate(-90) scale(1 1.06)" text-anchor="end">6</text>
<text class="xk" transform="translate(1136.03 872.60) rotate(-90)" text-anchor="end" x="-15.7">EZ</text><text class="xk" transform="translate(1136.03 872.60) rotate(-90) scale(1 1.06)" text-anchor="end">7</text>
<text class="xk" transform="translate(1170.74 872.60) rotate(-90)" text-anchor="end" x="-15.7">EZ</text><text class="xk" transform="translate(1170.74 872.60) rotate(-90) scale(1 1.06)" text-anchor="end">8</text>
<text class="tt" transform="translate(990.40 518.40) scale(1 1.04)">FTD<tspan class="ts" dx="-0.9" dy="6.50">DJF</tspan></text>
<text class="yl" transform="translate(830.40 694.20) rotate(-90)" text-anchor="middle">Skewness</text>
</g>
<g>
<line x1="1316.20" y1="776.30" x2="1593.90" y2="776.30" stroke="#dddddd" stroke-width="1.6"/>
<line x1="1316.20" y1="694.10" x2="1593.90" y2="694.10" stroke="#dddddd" stroke-width="1.6"/>
<line x1="1316.20" y1="611.90" x2="1593.90" y2="611.90" stroke="#dddddd" stroke-width="1.6"/>
<rect x="1316.20" y="529.70" width="277.70" height="328.80" fill="none" stroke="#1e1e1e" stroke-width="1.90"/>
<path d="M1333.56 529.70v4.00M1333.56 858.50v-4.00M1368.27 529.70v4.00M1368.27 858.50v-4.00M1402.98 529.70v4.00M1402.98 858.50v-4.00M1437.69 529.70v4.00M1437.69 858.50v-4.00M1472.41 529.70v4.00M1472.41 858.50v-4.00M1507.12 529.70v4.00M1507.12 858.50v-4.00M1541.83 529.70v4.00M1541.83 858.50v-4.00M1576.54 529.70v4.00M1576.54 858.50v-4.00M1316.20 776.30h4.00M1593.90 776.30h-4.00M1316.20 694.10h4.00M1593.90 694.10h-4.00M1316.20 611.90h4.00M1593.90 611.90h-4.00" stroke="#1e1e1e" stroke-width="1.6" fill="none"/>
<rect x="1317.64" y="728.60" width="31.24" height="129.90" fill="#ff0000" fill-opacity="0.3"/>
<rect x="1352.35" y="715.30" width="31.24" height="143.20" fill="#ff0000" fill-opacity="0.3"/>
<rect x="1387.06" y="763.80" width="31.24" height="94.70" fill="#ff0000" fill-opacity="0.3"/>
<rect x="1421.77" y="674.00" width="31.24" height="184.50" fill="#ff0000" fill-opacity="0.3"/>
<rect x="1456.49" y="602.00" width="31.24" height="256.50" fill="#ff0000" fill-opacity="0.3"/>
<rect x="1491.20" y="672.80" width="31.24" height="185.70" fill="#ff0000" fill-opacity="0.3"/>
<rect x="1525.91" y="659.50" width="31.24" height="199.00" fill="#ff0000" fill-opacity="0.3"/>
<rect x="1560.62" y="651.40" width="31.24" height="207.10" fill="#ff0000" fill-opacity="0.3"/>
<rect x="1316.20" y="722.10" width="34.71" height="4.70" fill="#000"/>
<rect x="1350.91" y="710.00" width="34.71" height="4.70" fill="#000"/>
<rect x="1385.62" y="756.45" width="34.71" height="4.70" fill="#000"/>
<rect x="1420.34" y="668.90" width="34.71" height="4.70" fill="#000"/>
<rect x="1455.05" y="593.45" width="34.71" height="4.70" fill="#000"/>
<rect x="1489.76" y="667.15" width="34.71" height="4.70" fill="#000"/>
<rect x="1524.48" y="654.20" width="34.71" height="4.70" fill="#000"/>
<rect x="1559.19" y="644.45" width="34.71" height="4.70" fill="#000"/>
<text class="tk" transform="translate(1301.90 870.25) scale(1 1.075)" text-anchor="end">0</text>
<text class="tk" transform="translate(1301.90 788.05) scale(1 1.075)" text-anchor="end">0.2</text>
<text class="tk" transform="translate(1301.90 705.85) scale(1 1.075)" text-anchor="end">0.4</text>
<text class="tk" transform="translate(1301.90 623.65) scale(1 1.075)" text-anchor="end">0.6</text>
<text class="tk" transform="translate(1301.90 541.45) scale(1 1.075)" text-anchor="end">0.8</text>
<text class="xk" transform="translate(1344.76 872.60) rotate(-90)" text-anchor="end" x="-15.7">EZ</text><text class="xk" transform="translate(1344.76 872.60) rotate(-90) scale(1 1.06)" text-anchor="end">1</text>
<text class="xk" transform="translate(1379.47 872.60) rotate(-90)" text-anchor="end" x="-15.7">EZ</text><text class="xk" transform="translate(1379.47 872.60) rotate(-90) scale(1 1.06)" text-anchor="end">2</text>
<text class="xk" transform="translate(1414.18 872.60) rotate(-90)" text-anchor="end" x="-15.7">EZ</text><text class="xk" transform="translate(1414.18 872.60) rotate(-90) scale(1 1.06)" text-anchor="end">3</text>
<text class="xk" transform="translate(1448.89 872.60) rotate(-90)" text-anchor="end" x="-15.7">EZ</text><text class="xk" transform="translate(1448.89 872.60) rotate(-90) scale(1 1.06)" text-anchor="end">4</text>
<text class="xk" transform="translate(1483.61 872.60) rotate(-90)" text-anchor="end" x="-15.7">EZ</text><text class="xk" transform="translate(1483.61 872.60) rotate(-90) scale(1 1.06)" text-anchor="end">5</text>
<text class="xk" transform="translate(1518.32 872.60) rotate(-90)" text-anchor="end" x="-15.7">EZ</text><text class="xk" transform="translate(1518.32 872.60) rotate(-90) scale(1 1.06)" text-anchor="end">6</text>
<text class="xk" transform="translate(1553.03 872.60) rotate(-90)" text-anchor="end" x="-15.7">EZ</text><text class="xk" transform="translate(1553.03 872.60) rotate(-90) scale(1 1.06)" text-anchor="end">7</text>
<text class="xk" transform="translate(1587.74 872.60) rotate(-90)" text-anchor="end" x="-15.7">EZ</text><text class="xk" transform="translate(1587.74 872.60) rotate(-90) scale(1 1.06)" text-anchor="end">8</text>
<text class="tt" transform="translate(1414.90 520.00) scale(1 1.04)">FTD<tspan class="ts" dx="-0.9" dy="6.50">DJF</tspan></text>
<text class="tau" transform="translate(1229.50 747.70) rotate(-90) scale(1.32 1)" stroke="#262626" stroke-width="0.45">τ</text><text class="sub" transform="translate(1248.10 726.60) rotate(-90)">T<tspan dx="3.5">,</tspan> FTD</text><line x1="1227.60" y1="722.00" x2="1227.60" y2="708.10" stroke="#262626" stroke-width="1.8"/>
</g>
<g>
<line x1="1730.90" y1="776.30" x2="2008.50" y2="776.30" stroke="#dddddd" stroke-width="1.6"/>
<line x1="1730.90" y1="694.10" x2="2008.50" y2="694.10" stroke="#dddddd" stroke-width="1.6"/>
<rect x="1730.90" y="529.70" width="277.60" height="328.80" fill="none" stroke="#1e1e1e" stroke-width="1.90"/>
<path d="M1748.25 529.70v4.00M1748.25 858.50v-4.00M1782.95 529.70v4.00M1782.95 858.50v-4.00M1817.65 529.70v4.00M1817.65 858.50v-4.00M1852.35 529.70v4.00M1852.35 858.50v-4.00M1887.05 529.70v4.00M1887.05 858.50v-4.00M1921.75 529.70v4.00M1921.75 858.50v-4.00M1956.45 529.70v4.00M1956.45 858.50v-4.00M1991.15 529.70v4.00M1991.15 858.50v-4.00M1730.90 776.30h4.00M2008.50 776.30h-4.00M1730.90 694.10h4.00M2008.50 694.10h-4.00M1730.90 611.90h4.00M2008.50 611.90h-4.00" stroke="#1e1e1e" stroke-width="1.6" fill="none"/>
<rect x="1732.34" y="611.90" width="31.23" height="24.80" fill="#ff0000" fill-opacity="0.3"/>
<rect x="1767.04" y="611.90" width="31.23" height="57.00" fill="#ff0000" fill-opacity="0.3"/>
<rect x="1801.74" y="610.00" width="31.23" height="1.90" fill="#ff0000" fill-opacity="0.3"/>
<rect x="1836.44" y="611.90" width="31.23" height="64.30" fill="#ff0000" fill-opacity="0.3"/>
<rect x="1871.13" y="611.90" width="31.23" height="210.20" fill="#ff0000" fill-opacity="0.3"/>
<rect x="1905.84" y="611.90" width="31.23" height="92.50" fill="#ff0000" fill-opacity="0.3"/>
<rect x="1940.54" y="611.90" width="31.23" height="108.40" fill="#ff0000" fill-opacity="0.3"/>
<rect x="1975.24" y="611.90" width="31.23" height="81.20" fill="#ff0000" fill-opacity="0.3"/>
<line x1="1730.90" y1="611.90" x2="2008.50" y2="611.90" stroke="#262626" stroke-width="1.3"/>
<rect x="1730.90" y="637.15" width="34.70" height="4.70" fill="#000"/>
<rect x="1765.60" y="670.10" width="34.70" height="4.70" fill="#000"/>
<rect x="1800.30" y="605.35" width="34.70" height="4.70" fill="#000"/>
<rect x="1835.00" y="679.25" width="34.70" height="4.70" fill="#000"/>
<rect x="1869.70" y="831.05" width="34.70" height="4.70" fill="#000"/>
<rect x="1904.40" y="705.45" width="34.70" height="4.70" fill="#000"/>
<rect x="1939.10" y="724.70" width="34.70" height="4.70" fill="#000"/>
<rect x="1973.80" y="697.55" width="34.70" height="4.70" fill="#000"/>
<text class="tk" transform="translate(1716.80 870.25) scale(1 1.075)" text-anchor="end">-0.6</text>
<text class="tk" transform="translate(1716.80 788.05) scale(1 1.075)" text-anchor="end">-0.4</text>
<text class="tk" transform="translate(1716.80 705.85) scale(1 1.075)" text-anchor="end">-0.2</text>
<text class="tk" transform="translate(1716.80 623.65) scale(1 1.075)" text-anchor="end">0</text>
<text class="tk" transform="translate(1716.80 541.45) scale(1 1.075)" text-anchor="end">0.2</text>
<text class="xk" transform="translate(1759.45 872.60) rotate(-90)" text-anchor="end" x="-15.7">EZ</text><text class="xk" transform="translate(1759.45 872.60) rotate(-90) scale(1 1.06)" text-anchor="end">1</text>
<text class="xk" transform="translate(1794.15 872.60) rotate(-90)" text-anchor="end" x="-15.7">EZ</text><text class="xk" transform="translate(1794.15 872.60) rotate(-90) scale(1 1.06)" text-anchor="end">2</text>
<text class="xk" transform="translate(1828.85 872.60) rotate(-90)" text-anchor="end" x="-15.7">EZ</text><text class="xk" transform="translate(1828.85 872.60) rotate(-90) scale(1 1.06)" text-anchor="end">3</text>
<text class="xk" transform="translate(1863.55 872.60) rotate(-90)" text-anchor="end" x="-15.7">EZ</text><text class="xk" transform="translate(1863.55 872.60) rotate(-90) scale(1 1.06)" text-anchor="end">4</text>
<text class="xk" transform="translate(1898.25 872.60) rotate(-90)" text-anchor="end" x="-15.7">EZ</text><text class="xk" transform="translate(1898.25 872.60) rotate(-90) scale(1 1.06)" text-anchor="end">5</text>
<text class="xk" transform="translate(1932.95 872.60) rotate(-90)" text-anchor="end" x="-15.7">EZ</text><text class="xk" transform="translate(1932.95 872.60) rotate(-90) scale(1 1.06)" text-anchor="end">6</text>
<text class="xk" transform="translate(1967.65 872.60) rotate(-90)" text-anchor="end" x="-15.7">EZ</text><text class="xk" transform="translate(1967.65 872.60) rotate(-90) scale(1 1.06)" text-anchor="end">7</text>
<text class="xk" transform="translate(2002.35 872.60) rotate(-90)" text-anchor="end" x="-15.7">EZ</text><text class="xk" transform="translate(2002.35 872.60) rotate(-90) scale(1 1.06)" text-anchor="end">8</text>
<text class="tt" transform="translate(1828.10 518.40) scale(1 1.04)">FTD<tspan class="ts" dx="-0.9" dy="6.50">DJF</tspan></text>
<text class="tau" transform="translate(1632.80 756.30) rotate(-90) scale(1.32 1)" stroke="#262626" stroke-width="0.45">τ</text><text class="sub" transform="translate(1651.40 737.50) rotate(-90)">SD<tspan dx="3.5">,</tspan> FTD</text>
</g>
</svg></body></html>
